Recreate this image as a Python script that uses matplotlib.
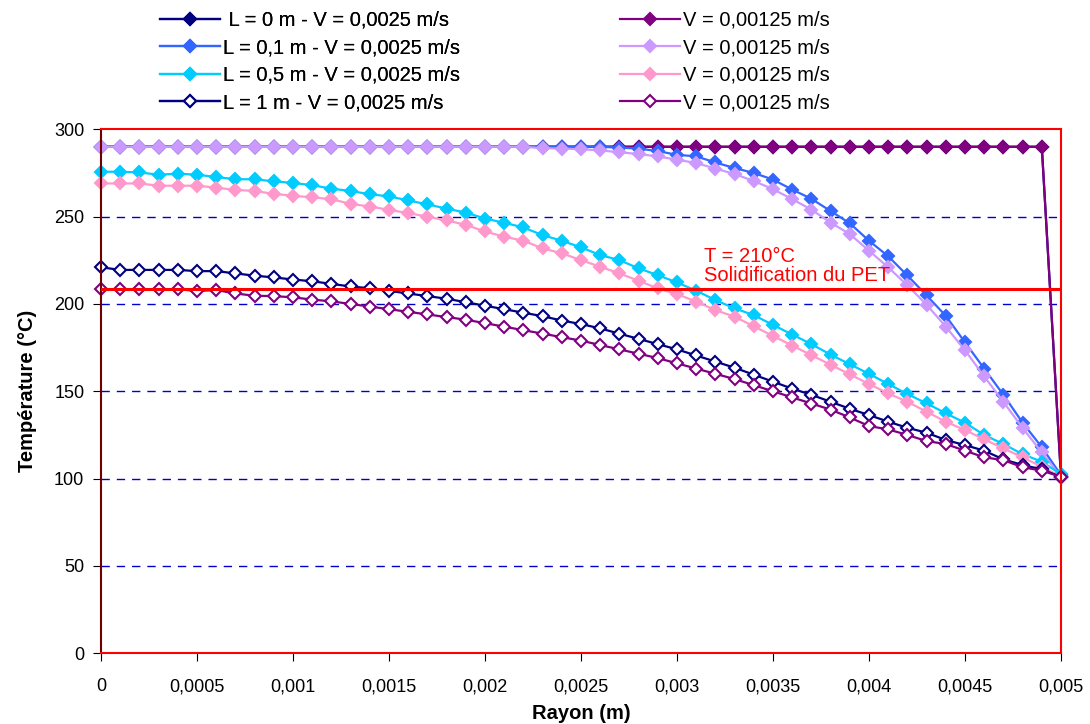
import matplotlib
matplotlib.use("Agg")
import matplotlib.pyplot as plt
import numpy as np

plt.rcParams['font.family'] = ['Liberation Sans', 'DejaVu Sans']

# radius positions (m), 51 points
rayon = np.arange(51) * 0.0001

# ---- V = 0,0025 m/s ----
t_l0_v1 = [290] * 50 + [101]
t_l01_v1 = [290] * 27 + [289.5, 289, 287.5, 285.4, 284.5, 281, 277.8, 275, 271.2,
                         265.5, 260.2, 253.2, 246.2, 236.2, 227.3, 216.3, 204.9, 193.2,
                         178, 163, 148, 132, 118, 102]
t_l05_v1 = [275.7, 275.7, 275.3, 274, 274.6, 274, 272.7, 271.4, 271.4, 270.2,
            269.3, 268, 266, 264.7, 262.8, 261.6, 259.3, 257, 254.6, 252.3,
            248.9, 246.5, 243.8, 239.4, 236.2, 232.4, 228, 225.1, 220.4, 216.5,
            212.3, 207.6, 202.2, 197.5, 193.6, 188, 182.5, 177, 171, 165.5,
            160, 154.2, 148.4, 143.1, 137.4, 132, 125, 119.8, 114, 109.7, 102.5]
t_l1_v1 = [221, 219.5, 219.5, 219.5, 219.5, 218.8, 218.8, 217.5, 216.2, 215.2,
           214, 213, 211.5, 210, 209, 207.5, 206, 204.5, 203, 201,
           199, 197, 195, 193, 190.5, 188.5, 186, 183, 180, 177,
           174, 170.5, 167, 163.5, 159.5, 155.5, 151.5, 148, 144, 140,
           136.4, 132.6, 129.1, 126.3, 122.1, 119.2, 116, 111, 107.8, 105.3, 101]

# ---- V = 0,00125 m/s ----
t_l0_v2 = [290] * 50 + [101]
t_l01_v2 = [290] * 23 + [289.2, 289, 288.6, 287.9, 286.9, 285.8, 284.5, 282.6, 280.7,
                         277.5, 274.4, 270.4, 265.7, 260, 254, 246.6, 240, 230.5,
                         221, 210.6, 199.6, 187, 173.5, 158.5, 144, 129, 115, 101]
t_l05_v2 = [269, 269, 269, 267.7, 267.7, 267.7, 266.6, 265.3, 264.7, 263,
            262, 261, 260, 257.3, 255.8, 253.9, 252, 250, 247.8, 245.3,
            241.5, 238.5, 236.2, 231.8, 229, 225.1, 221.3, 217.5, 213.3, 208.9,
            205.7, 201.3, 196.5, 192.7, 187.2, 181.7, 176.2, 170.7, 165.2, 159.7,
            154.2, 148.8, 144, 138.3, 132.6, 127.8, 122.5, 117.3, 112.2, 106.8, 101]
t_l1_v2 = [208.5, 208.5, 208.5, 208.5, 208.5, 207.4, 208, 206, 204.7, 204.5,
           203.8, 202.5, 201.5, 200, 198.5, 197, 195.5, 194, 192.5, 191,
           189, 187, 185, 183, 181, 179, 176.5, 174, 171.5, 169,
           166, 163, 160, 157, 153.5, 150, 146.5, 143, 139.5, 135,
           130.1, 128.2, 125, 121.5, 119.8, 116, 112.2, 110.6, 106.5, 104.6, 101]

labels_v1 = [" L = 0 m - V = 0,0025 m/s", "L = 0,1 m - V = 0,0025 m/s",
             "L = 0,5 m - V = 0,0025 m/s", "L = 1 m - V = 0,0025 m/s"]
labels_v2 = ["V = 0,00125 m/s"] * 4

t_solid = 208.5
x_ticks = [0, 0.0005, 0.001, 0.0015, 0.002, 0.0025, 0.003, 0.0035, 0.004, 0.0045, 0.005]
x_ticklabels = ["0", "0,0005", "0,001", "0,0015", "0,002", "0,0025", "0,003",
                "0,0035", "0,004", "0,0045", "0,005"]
y_ticks = [0, 50, 100, 150, 200, 250, 300]

fig = plt.figure(figsize=(10.9, 7.24), dpi=100)
ax = fig.add_axes([101 / 1090, 1 - 653.3 / 724, 960 / 1090, 524 / 724])

ms = 6.6
lw = 1.6
# excel series order (row-wise legend): V1, V2, V1, V2 ...
series = [
    (t_l0_v1, "#000080", "#000080", 0),
    (t_l0_v2, "#800080", "#800080", 4),
    (t_l01_v1, "#3366FF", "#3366FF", 1),
    (t_l01_v2, "#CC99FF", "#CC99FF", 5),
    (t_l05_v1, "#00CCFF", "#00CCFF", 2),
    (t_l05_v2, "#FF99CC", "#FF99CC", 6),
    (t_l1_v1, "#000080", "white", 3),
    (t_l1_v2, "#800080", "white", 7),
]
handles = [None] * 8
for vals, col, face, k in series:
    h, = ax.plot(rayon, vals, color=col, lw=lw, marker="D", ms=ms,
                 mfc=face, mec=col, mew=1.5, clip_on=False)
    handles[k] = h

ax.axhline(t_solid, color="red", lw=2.2, zorder=5)
ax.text(0.00314, 213, "T = 210°C\nSolidification du PET", color="red",
        fontsize=14.5, linespacing=1.0)

ax.set_xlim(0, 0.005)
ax.set_ylim(0, 300)
ax.set_xticks(x_ticks)
ax.set_xticklabels(x_ticklabels, fontsize=13)
ax.set_yticks(y_ticks)
ax.tick_params(axis="y", labelsize=13, length=6, pad=6)
ax.tick_params(axis="x", length=6, pad=12)
for v in y_ticks[1:-1]:
    ax.axhline(v, color="#0000CC", lw=1, ls=(0, (6, 5)), zorder=0)

for s in ax.spines.values():
    s.set_color("red")
    s.set_linewidth(1.5)
ax.spines["left"].set_color("#700000")

ax.set_xlabel("Rayon (m)", fontsize=14.5, fontweight="bold", labelpad=6)
ax.set_ylabel("Température (°C)", fontsize=14.5, fontweight="bold", labelpad=12)

leg_kw = dict(loc="upper left", frameon=False, fontsize=14.5, handlelength=3.0,
              handletextpad=0.15, labelspacing=0.42, borderpad=0, borderaxespad=0)
leg1 = fig.legend(handles[:4], labels_v1, bbox_to_anchor=(160 / 1090, 1 - 11 / 724), **leg_kw)
fig.add_artist(leg1)
fig.legend(handles[4:], labels_v2, bbox_to_anchor=(620 / 1090, 1 - 11 / 724), **leg_kw)

fig.savefig("out.png", dpi=100)
